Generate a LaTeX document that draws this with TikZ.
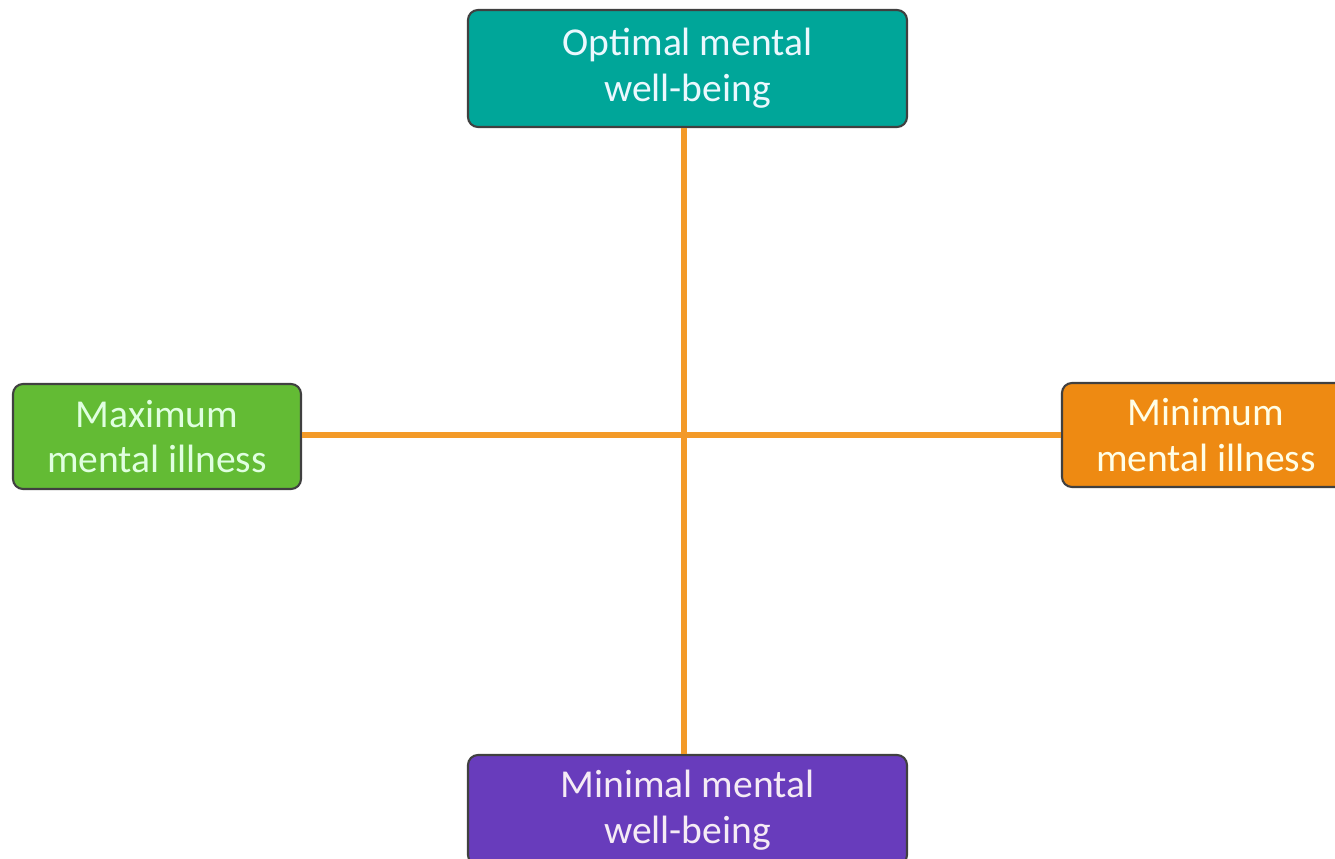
\documentclass[tikz,border=0pt]{standalone}
\usepackage{fontspec}
\setmainfont{Carlito}
\definecolor{tealbox}{RGB}{0,166,153}
\definecolor{greenbox}{RGB}{99,187,52}
\definecolor{orangebox}{RGB}{238,138,18}
\definecolor{purplebox}{RGB}{104,60,188}
\definecolor{axisline}{RGB}{243,154,40}
\definecolor{boxedge}{RGB}{64,64,64}
\begin{document}
\begin{tikzpicture}[
    quadbox/.style={draw=boxedge, line width=1.2pt, rounded corners=0.2cm, align=center,
        font=\fontsize{22.5}{26}\selectfont, inner sep=0pt},
    axis/.style={axisline, line width=3.8pt}
]
    % Fix the page to the reference size (1 px = 0.02 cm)
    \useasboundingbox (0,0) rectangle (26.7,-17.18);
    \clip (0,0) rectangle (26.7,-17.18);

    % The centre of the cross
    \coordinate (centre) at (13.68,-8.7);

    % The four boxes
    \node[quadbox, fill=tealbox, text=cyan!8, minimum width=8.78cm, minimum height=2.34cm]
        (optimal) at (13.75,-1.37) {Optimal mental\\well-being};
    \node[quadbox, fill=purplebox, text=violet!8, minimum width=8.78cm, minimum height=2.2cm]
        (minimal) at (13.75,-16.2) {Minimal mental\\well-being};
    \node[quadbox, fill=greenbox, text=green!12, minimum width=5.76cm, minimum height=2.1cm]
        (maximum) at (3.14,-8.73) {Maximum\\mental illness};
    \node[quadbox, fill=orangebox, text=yellow!10, minimum width=5.76cm, minimum height=2.08cm]
        (minimum) at (24.12,-8.7) {Minimum\\mental illness};

    % Vertical axis: well-being
    \draw[axis] (optimal.south -| centre) -- (minimal.north -| centre);
    % Horizontal axis: mental illness
    \draw[axis] (maximum.east |- centre) -- (minimum.west |- centre);
\end{tikzpicture}
\end{document}
